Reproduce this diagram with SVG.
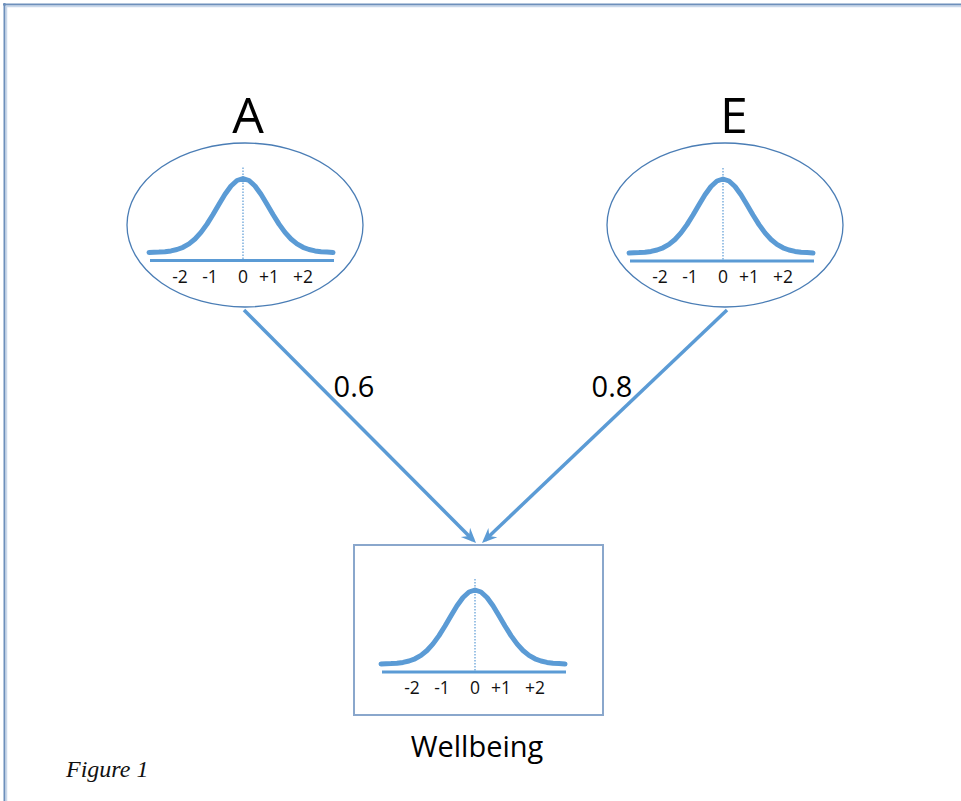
<svg xmlns="http://www.w3.org/2000/svg" xmlns:xlink="http://www.w3.org/1999/xlink" width="961" height="801" viewBox="0 0 961 801">
<style>
.curve{fill:none;stroke:#5b9bd5;stroke-width:5;stroke-linejoin:round;stroke-linecap:round}
.axis{fill:none;stroke:#5b9bd5;stroke-width:3}
.dot{fill:none;stroke:#5b9bd5;stroke-width:1.2;stroke-dasharray:1.5 1.5}
.tick{font-family:"Open Sans","Noto Sans",sans-serif;font-size:17.5px;fill:#111;text-anchor:middle}
.big{font-family:"Open Sans","Noto Sans",sans-serif;font-size:50px;fill:#000;text-anchor:middle}
.wt{font-family:"Open Sans","Noto Sans",sans-serif;font-size:29px;fill:#000;text-anchor:middle}
.lbl{font-family:"Open Sans","Noto Sans",sans-serif;font-size:29px;fill:#000;text-anchor:middle}
.node{fill:#fff;stroke:#4a7db5;stroke-width:1.3}
.box{fill:#fff;stroke:#8aa7cc;stroke-width:2}
.conn{fill:none;stroke:#5b9bd5;stroke-width:3.5}
</style>
<defs>
<marker id="arr" markerUnits="userSpaceOnUse" markerWidth="20" markerHeight="20" refX="-4" refY="0" orient="auto" overflow="visible">
<path d="M0,0 L-15,-6.5 L-10,0 L-15,6.5 Z" fill="#5b9bd5"/>
</marker>
<g id="dist">
<path class="curve" d="M-94,0 L-84,-0.4 L-78,-0.8 L-72,-1.6 L-66,-3 L-60,-5.2 L-54,-8.6 L-48,-13.5 L-42,-20.1 L-36,-28.4 L-30,-38 L-24,-48.3 L-18,-58.2 L-12,-66.5 L-6,-72 L0,-74 L6,-72 L12,-66.5 L18,-58.2 L24,-48.3 L30,-38 L36,-28.4 L42,-20.1 L48,-13.5 L54,-8.6 L60,-5.2 L66,-3 L72,-1.6 L78,-0.8 L84,-0.4 L90,0"/>
<line class="axis" x1="-93" y1="8" x2="91" y2="8"/>
<line class="dot" x1="0" y1="-85" x2="0" y2="7"/>
<text class="tick" x="-63" y="30">-2</text>
<text class="tick" x="-33" y="30">-1</text>
<text class="tick" x="0" y="30">0</text>
<text class="tick" x="26" y="30">+1</text>
<text class="tick" x="60" y="30">+2</text>
</g>
</defs>
<rect width="961" height="801" fill="#fff"/>
<g id="frame">
<line x1="3" y1="4.5" x2="961" y2="4.5" stroke="#6d8fbb" stroke-width="2"/>
<line x1="4.5" y1="3" x2="4.5" y2="801" stroke="#6d8fbb" stroke-width="2"/>
<line x1="6" y1="6.5" x2="961" y2="6.5" stroke="#c9d8ea" stroke-width="1.5"/>
<line x1="6.5" y1="6" x2="6.5" y2="801" stroke="#c9d8ea" stroke-width="1.5"/>
</g>
<g id="connectors">
<line class="conn" x1="244" y1="310" x2="473.2" y2="540.2" marker-end="url(#arr)"/>
<line class="conn" x1="727" y1="310" x2="484.9" y2="540.2" marker-end="url(#arr)"/>
<text class="lbl" x="354" y="397">0.6</text>
<text class="lbl" x="612" y="397">0.8</text>
</g>
<g id="node-A">
<text class="big" x="248" y="133">A</text>
<ellipse class="node" cx="245" cy="225" rx="118" ry="82"/>
<use xlink:href="#dist" transform="translate(243,252.5)"/>
</g>
<g id="node-E">
<text class="big" x="734" y="133">E</text>
<ellipse class="node" cx="725" cy="225" rx="118" ry="82"/>
<use xlink:href="#dist" transform="translate(723,253)"/>
</g>
<g id="node-Wellbeing">
<rect class="box" x="354" y="545" width="249" height="170"/>
<use xlink:href="#dist" transform="translate(475,664)"/>
<text class="wt" x="477" y="757">Wellbeing</text>
</g>
<text x="66" y="777" font-family="'Liberation Serif',serif" font-style="italic" font-size="24" fill="#111">Figure 1</text>
</svg>
